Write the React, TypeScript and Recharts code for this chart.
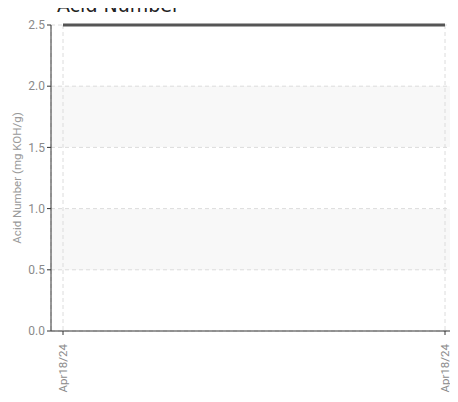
import { CartesianGrid, Line, LineChart, XAxis, YAxis } from "recharts"

const dates = ["Apr18/24", "Apr18/24"]
const acidValues = [2.5, 2.5]
const yTicks = [0, 0.5, 1, 1.5, 2, 2.5]

const data = dates.map((d, i) => ({ date: d, acid: acidValues[i] }))

const TICK_COLOR = "#8a8a8a"
const AXIS_COLOR = "#333"

function DateTick(props: { x?: number; y?: number; payload?: { value: string } }) {
  const { x = 0, y = 0, payload } = props
  return (
    <g transform={`translate(${x},${y})`}>
      <text
        transform="rotate(-90)"
        x={-7}
        y={4}
        textAnchor="end"
        fontSize={11.5}
        fontFamily="Roboto, sans-serif"
        fill={TICK_COLOR}
      >
        {payload?.value}
      </text>
    </g>
  )
}

export default function App() {
  return (
    <div style={{ position: "relative", margin: "-8px 0 0 -8px", width: 458, height: 402 }}>
      <LineChart
        width={458}
        height={402}
        data={data}
        margin={{ top: 25, right: 0, bottom: 0, left: 0 }}
      >
        <CartesianGrid
          strokeDasharray="4 3"
          stroke="#dcdcdc"
          horizontalFill={["transparent", "#f8f8f8"]}
        />
        <XAxis
          dataKey="date"
          height={71}
          padding={{ left: 12, right: 13 }}
          stroke={AXIS_COLOR}
          tickSize={4}
          interval={0}
          tick={<DateTick />}
        />
        <YAxis
          width={51}
          domain={[0, 2.5]}
          ticks={yTicks}
          stroke={AXIS_COLOR}
          tickSize={4}
          tick={{ fontSize: 12, fill: TICK_COLOR, fontFamily: "Roboto, sans-serif" }}
          tickFormatter={(v: number) => v.toFixed(1)}
          label={{
            value: "Acid Number (mg KOH/g)",
            angle: -90,
            position: "insideLeft",
            offset: 17,
            style: { textAnchor: "middle", fontSize: 11.5, fill: "#999", fontFamily: "Roboto, sans-serif" },
          }}
        />
        <Line
          type="linear"
          dataKey="acid"
          stroke="#555"
          strokeWidth={3}
          dot={false}
          isAnimationActive={false}
        />
      </LineChart>
      <div
        style={{
          position: "absolute",
          left: 57,
          top: -4,
          zIndex: 2,
          fontFamily: "'DejaVu Sans', sans-serif",
          fontSize: 19,
          lineHeight: "19px",
          color: "#222",
          whiteSpace: "nowrap",
        }}
      >
        Acid Number
      </div>
    </div>
  )
}
